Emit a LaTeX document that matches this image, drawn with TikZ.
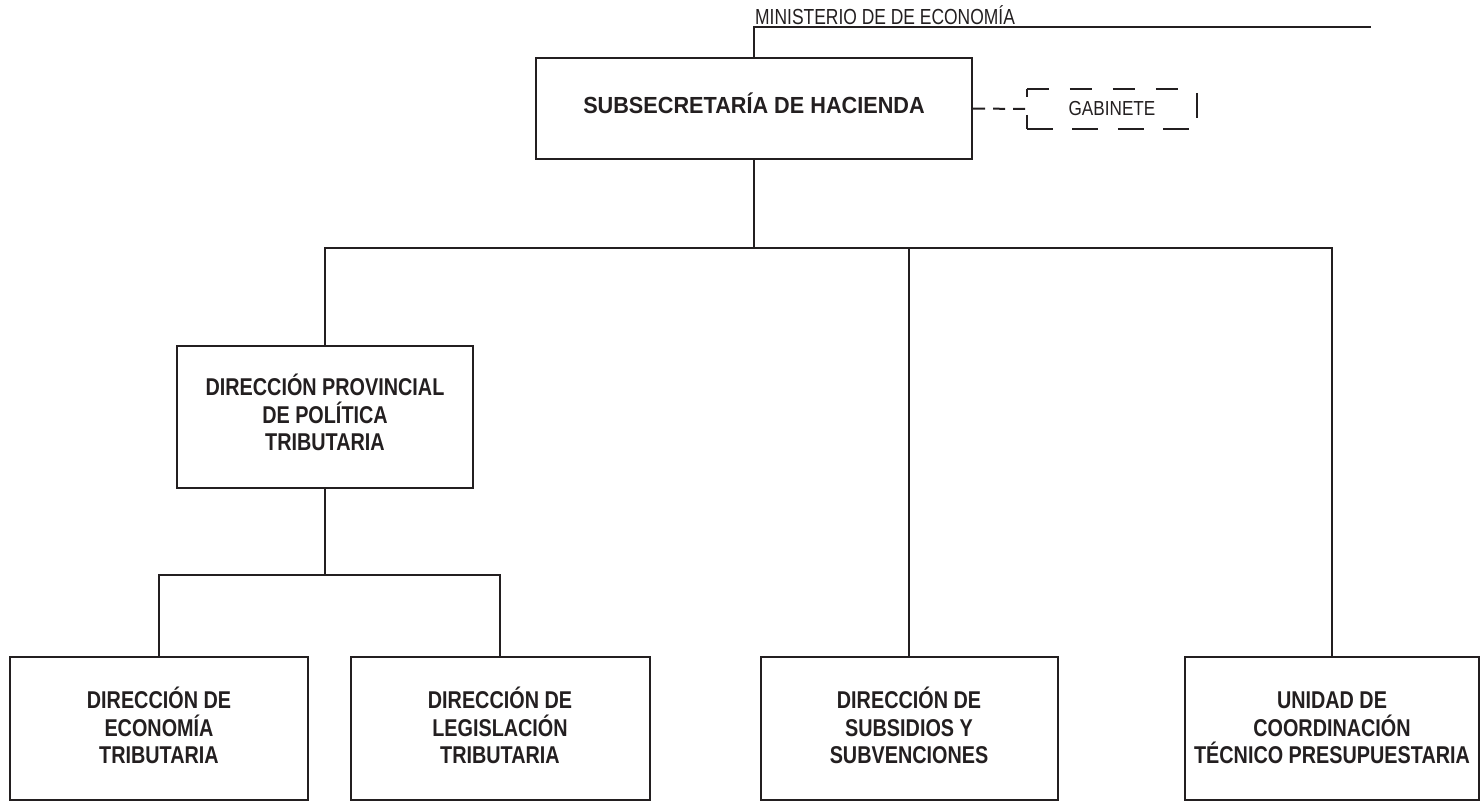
\documentclass[tikz,border=0pt]{standalone}
\usepackage{fontspec}
\setmainfont{Liberation Sans}
\newfontfamily\subfont[FakeStretch=0.93]{Liberation Sans}
\newfontfamily\condB[FakeStretch=0.815]{Liberation Sans}
\newfontfamily\condR[FakeStretch=0.80]{Liberation Sans}
\newfontfamily\gabfont[FakeStretch=0.845]{Liberation Sans}
\definecolor{ink}{RGB}{35,31,32}
\newcommand{\toprow}{\vphantom{ÓÍ}}
\newcommand{\lowrow}{\rule[-6pt]{0pt}{0pt}}
\begin{document}
\begin{tikzpicture}[x=1pt,y=-1pt,
  unit/.style={draw=ink,line width=2pt,rectangle,inner sep=0pt,align=center,
    text=ink,font=\condB\bfseries\fontsize{24.3}{27.5}\selectfont},
  topunit/.style={unit,font=\subfont\bfseries\fontsize{23.3}{26}\selectfont},
  gabbox/.style={rectangle,inner sep=0pt,text=ink,font=\gabfont\fontsize{20.3}{22}\selectfont},
  link/.style={line width=2pt,draw=ink},
  dashlink/.style={link,dash pattern=on 12pt off 8pt}
]
\path[use as bounding box] (0,0) rectangle (1480,801);

% boxes
\node[topunit,minimum width=436pt,minimum height=101pt] (sub) at (754,108.5) {SUBSECRETARÍA DE HACIENDA\rule[-10pt]{0pt}{0pt}};
\node[gabbox,minimum width=170pt,minimum height=40pt] (gab) at (1112,109) {GABINETE};
\node[unit,minimum width=296pt,minimum height=142pt] (dp) at (325,417) {\toprow DIRECCIÓN PROVINCIAL\\DE POLÍTICA\\TRIBUTARIA\rule[-9pt]{0pt}{0pt}};
\node[unit,minimum width=298pt,minimum height=143pt] (b1) at (159,728.5) {\toprow DIRECCIÓN DE\\ECONOMÍA\\TRIBUTARIA\lowrow};
\node[unit,minimum width=299pt,minimum height=143pt] (b2) at (500,728.5) {\toprow DIRECCIÓN DE\\LEGISLACIÓN\\TRIBUTARIA\lowrow};
\node[unit,minimum width=297pt,minimum height=143pt] (b3) at (909,728.5) {\toprow DIRECCIÓN DE\\SUBSIDIOS Y\\SUBVENCIONES\lowrow};
\node[unit,minimum width=294pt,minimum height=143pt] (b4) at (1332,728.5) {\toprow UNIDAD DE\\COORDINACIÓN\\TÉCNICO PRESUPUESTARIA\lowrow};

% dashed frame of GABINETE
\draw[link,dash pattern=on 22pt off 21pt] (gab.north west) -- (gab.north east);
\draw[link,dash pattern=on 26pt off 19.5pt] (gab.south west) -- (gab.south east);
\draw[link,dash pattern=on 8pt off 18pt on 14pt off 50pt] (gab.north west) -- (gab.south west);
\draw[link] ([yshift=-4pt]gab.north east) -- ([yshift=11pt]gab.south east);

% top line and label
\coordinate (mtop) at (754,27);
\coordinate (mend) at (1371,27);
\node[anchor=base west,inner sep=0pt,text=ink,font=\condR\fontsize{21.8}{24}\selectfont] (min) at (755,24.5) {MINISTERIO DE DE ECONOMÍA};
\draw[link] (sub.north) -- (mtop) -- (mend);

% gabinete link
\draw[dashlink] (sub.east) -- (gab.west);

% main bus
\coordinate (mbus) at (754,248);
\draw[link] (sub.south) -- (mbus);
\draw[link] (dp.north) |- (mbus) -| (b4.north);
\draw[link] (b3.north) -- (b3.north |- mbus);

% sub bus
\coordinate (sbus) at (325,575);
\draw[link] (dp.south) -- (sbus);
\draw[link] (b1.north) |- (sbus) -| (b2.north);
\end{tikzpicture}
\end{document}
